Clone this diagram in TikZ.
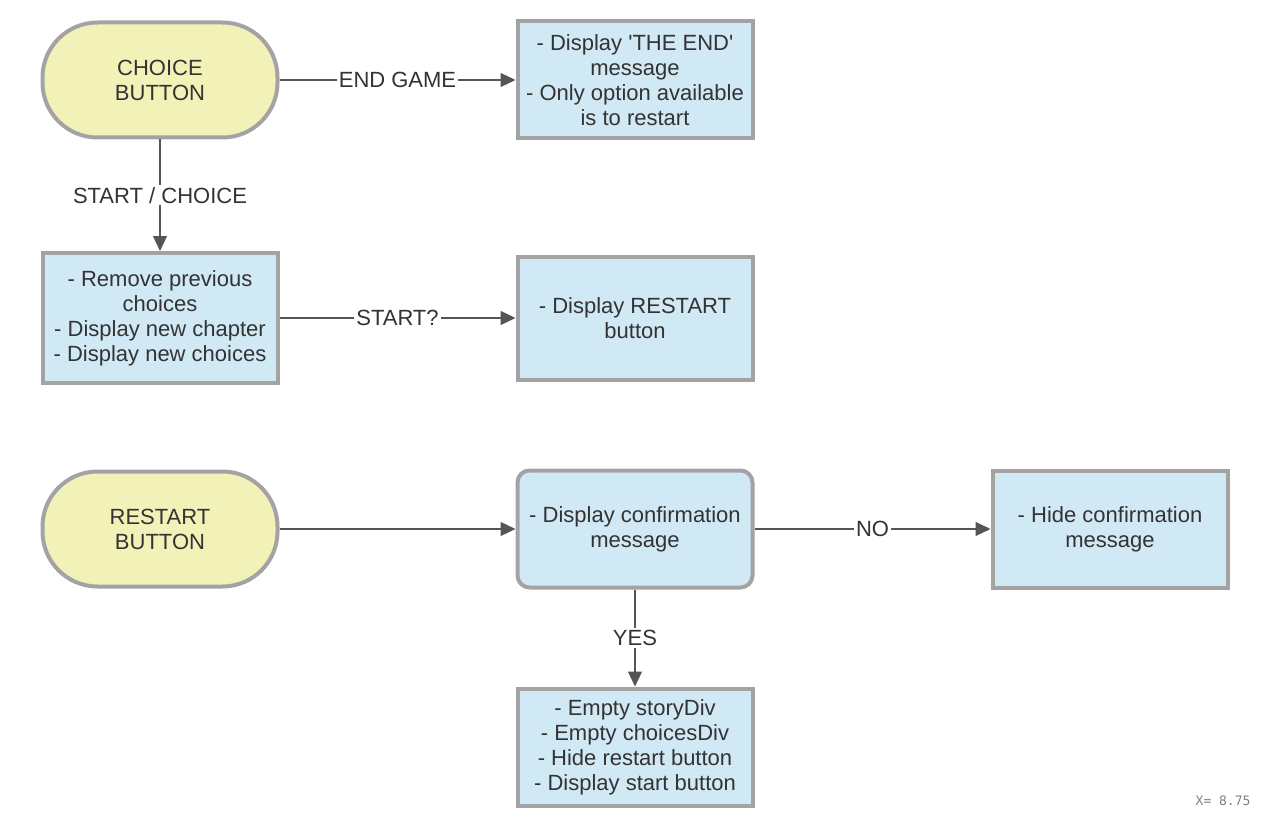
\documentclass[tikz,border=0pt]{standalone}
\usepackage{fontspec}
\setmainfont{Liberation Sans}
\newfontfamily\monofnt{DejaVu Sans Mono}
\usetikzlibrary{arrows.meta}
\definecolor{bordergrey}{HTML}{A3A3A3}
\definecolor{boxblue}{HTML}{D1E8F5}
\definecolor{boxyellow}{HTML}{F2F2B8}
\definecolor{txt}{HTML}{333333}
\definecolor{linec}{HTML}{555555}
\tikzset{
  base/.style={draw=bordergrey, line width=4pt, text=txt, align=center,
    minimum width=235pt, font=\fontsize{22}{25}\selectfont, inner sep=2pt},
  procbox/.style={base, fill=boxblue},
  roundbox/.style={base, fill=boxblue, rounded corners=12pt},
  termbox/.style={base, fill=boxyellow, rounded corners=55pt, minimum height=115pt},
  conn/.style={draw=linec, line width=1.3pt, -{Triangle[length=15pt,width=14pt]}},
  lbl/.style={fill=white, text=txt, font=\fontsize{22}{25}\selectfont, inner sep=2pt}
}
\begin{document}
\begin{tikzpicture}[x=1pt,y=-1pt]
\useasboundingbox (0,0) rectangle (1269,824);
\node[termbox] (choice) at (160,80) {CHOICE\\BUTTON};
\node[procbox, minimum height=117pt] (theend) at (635,80) {- Display \textquotesingle THE END\textquotesingle\\message\\- Only option available\\is to restart};
\node[procbox, minimum height=130pt] (remove) at (160,318) {- Remove previous\\choices\\- Display new chapter\\- Display new choices};
\node[procbox, minimum height=123pt] (restartbtn) at (635,318) {- Display RESTART\\button};
\node[termbox] (restart) at (160,529) {RESTART\\BUTTON};
\node[roundbox, minimum height=117pt] (confirm) at (635,529) {- Display confirmation\\message};
\node[procbox, minimum height=117pt] (hide) at (1110,529) {- Hide confirmation\\message};
\node[procbox, minimum height=117pt] (empty) at (635,747) {- Empty storyDiv\\- Empty choicesDiv\\- Hide restart button\\- Display start button};

\draw[conn] (choice) -- node[lbl] {END GAME} (theend);
\draw[conn] (choice) -- node[lbl, pos=0.5] {START / CHOICE} (remove);
\draw[conn] (remove) -- node[lbl] {START?} (restartbtn);
\draw[conn] (restart) -- (confirm);
\draw[conn] (confirm) -- node[lbl] {NO} (hide);
\draw[conn] (confirm) -- node[lbl] {YES} (empty);

\node[text=gray, font=\monofnt\fontsize{13}{15}\selectfont, anchor=east] (xlabel) at (1254,801) {X= 8.75};
\end{tikzpicture}
\end{document}
